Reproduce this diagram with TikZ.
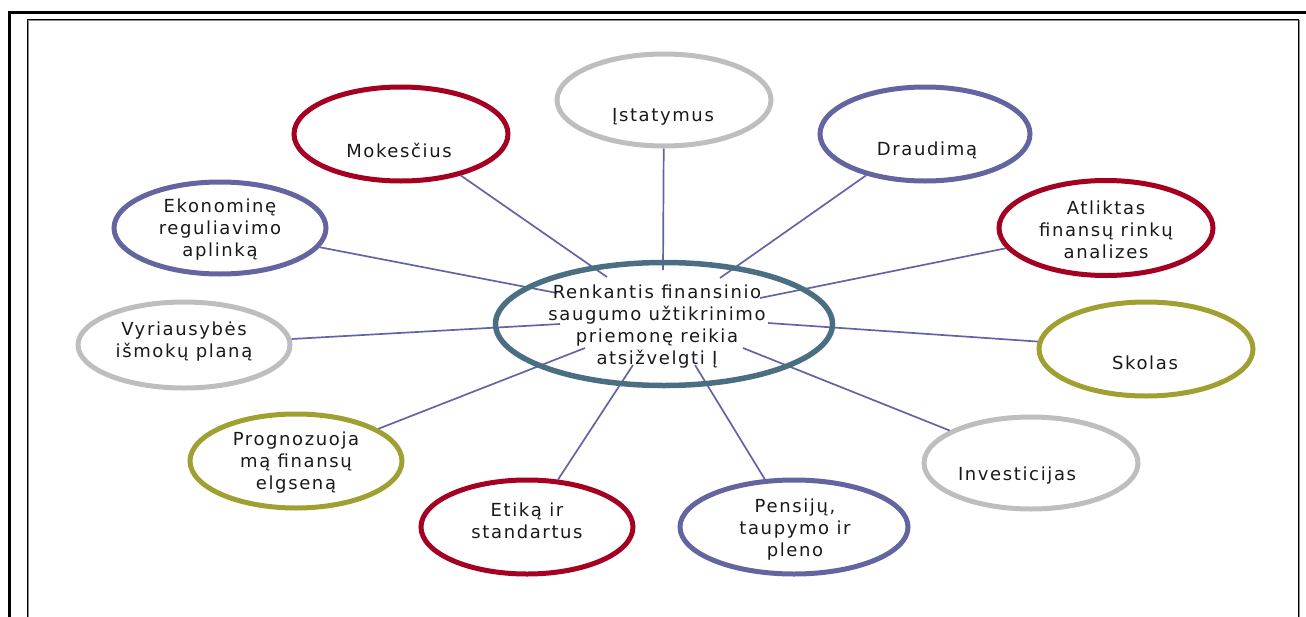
\documentclass[tikz,border=0pt]{standalone}
\usepackage{fontspec}
\newfontfamily\dv{DejaVu Sans}[LetterSpace=9]
\usetikzlibrary{shapes.geometric}
\definecolor{cred}{RGB}{165,0,33}
\definecolor{cpur}{RGB}{100,100,160}
\definecolor{cgray}{RGB}{190,190,190}
\definecolor{coli}{RGB}{160,160,50}
\definecolor{cteal}{RGB}{75,110,130}
\definecolor{cline}{RGB}{100,100,165}
\begin{document}
\begin{tikzpicture}[x=1pt,y=-1pt,
  bub/.style={ellipse, line width=5pt, inner sep=0pt},
  txt/.style={font=\dv\fontsize{18}{22}\selectfont, align=center, inner sep=0pt, text=black!90},
  link/.style={draw=cline, line width=1.7pt}]
\useasboundingbox (0,0) rectangle (1306,616);
\draw[line width=3pt] (9,12) rectangle (1340,660);
\draw[black!45,line width=1pt] (28,20) rectangle (1299,660);
\draw[line width=0.9pt] (27,19) rectangle (1298,660);

% outer bubbles
\node[bub, draw=cgray, minimum width=214pt, minimum height=92pt] (ist) at (664,100) {};
\node[bub, draw=cred,  minimum width=214pt, minimum height=94pt] (mok) at (401,134) {};
\node[bub, draw=cpur,  minimum width=210pt, minimum height=94pt] (dra) at (925,134) {};
\node[bub, draw=cpur,  minimum width=212pt, minimum height=92pt] (eko) at (220,228) {};
\node[bub, draw=cred,  minimum width=214pt, minimum height=95pt] (atl) at (1106,228) {};
\node[bub, draw=cgray, minimum width=212pt, minimum height=86pt] (vyr) at (184,345) {};
\node[bub, draw=coli,  minimum width=214pt, minimum height=94pt] (sko) at (1146,349) {};
\node[bub, draw=coli,  minimum width=212pt, minimum height=94pt] (pro) at (296,461) {};
\node[bub, draw=cgray, minimum width=214pt, minimum height=92pt] (inv) at (1031,463) {};
\node[bub, draw=cred,  minimum width=212pt, minimum height=94pt] (eti) at (527,527) {};
\node[bub, draw=cpur,  minimum width=228pt, minimum height=94pt] (pen) at (794,527) {};

% texts
\node[txt] (istT) at (663,117) {Įstatymus};
\node[txt] (mokT) at (399,150) {Mokesčius};
\node[txt] (draT) at (927,150) {Draudimą};
\node[txt] (ekoT) at (220,230) {Ekonominę\\reguliavimo\\aplinką};
\node[txt] (atlT) at (1106,230) {Atliktas\\finansų rinkų\\analizes};
\node[txt] (vyrT) at (184,342) {Vyriausybės\\išmokų planą};
\node[txt] (skoT) at (1145,363) {Skolas};
\node[txt] (proT) at (296,463) {Prognozuoja\\mą finansų\\elgseną};
\node[txt] (invT) at (1017,476) {Investicijas};
\node[txt] (etiT) at (527,521) {Etiką ir\\standartus};
\node[txt] (penT) at (795,530) {Pensijų,\\taupymo ir\\pleno};

% inner ends of connectors
\coordinate (eMok) at (607,277);
\coordinate (eIst) at (663,270);
\coordinate (eDra) at (720,278);
\coordinate (eEko) at (557,293);
\coordinate (eAtl) at (760,298);
\coordinate (eVyr) at (560,324);
\coordinate (eSko) at (768,323);
\coordinate (ePro) at (585,348);
\coordinate (eInv) at (743,348);
\coordinate (eEti) at (633,365);
\coordinate (ePen) at (695,365);

\draw[link] (mok) -- (eMok);
\draw[link] (ist) -- (eIst);
\draw[link] (dra) -- (eDra);
\draw[link] (eko) -- (eEko);
\draw[link] (atl) -- (eAtl);
\draw[link] (vyr) -- (eVyr);
\draw[link] (sko) -- (eSko);
\draw[link] (pro) -- (ePro);
\draw[link] (inv) -- (eInv);
\draw[link] (eti) -- (eEti);
\draw[link] (pen) -- (ePen);

% central bubble
\node[bub, draw=cteal, line width=5.5pt, minimum width=337pt, minimum height=123pt] (cen) at (664,324) {};
\node[txt] (cenT) at (657,327) {Renkantis finansinio\\saugumo užtikrinimo\\priemonę reikia\\atsižvelgti Į};
\end{tikzpicture}
\end{document}
